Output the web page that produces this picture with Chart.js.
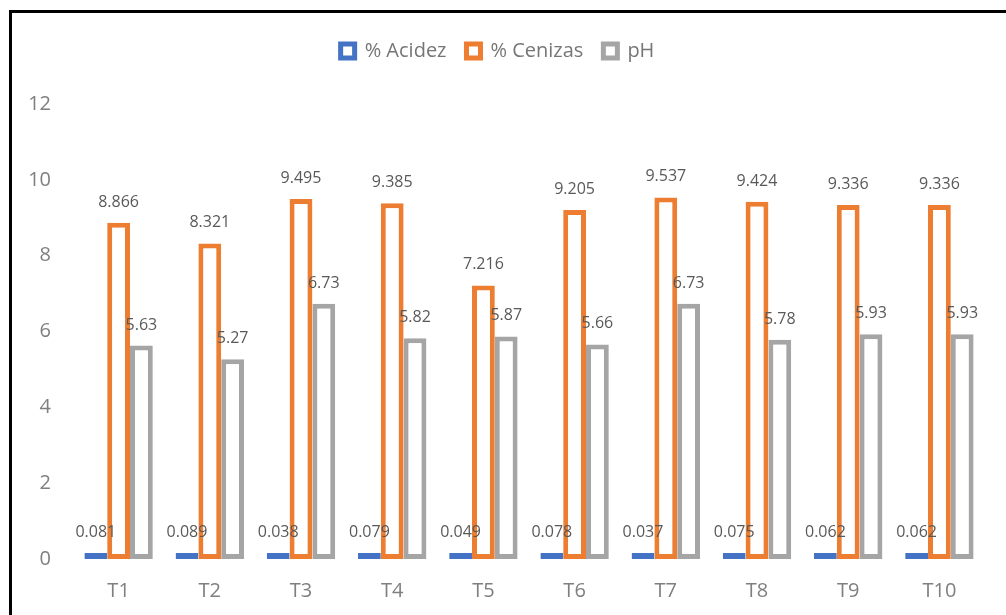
<!DOCTYPE html>
<html>
<head>
<meta charset="utf-8">
<script src="https://cdn.jsdelivr.net/npm/chart.js@4/dist/chart.umd.min.js"></script>
<style>
  html, body { margin: 0; padding: 0; background: #fff; }
  #wrap { width: 1006px; height: 615px; position: relative; }
</style>
</head>
<body>
<div id="wrap"><canvas id="chart"></canvas></div>
<script>
const categories = ["T1", "T2", "T3", "T4", "T5", "T6", "T7", "T8", "T9", "T10"];
const acidez = [0.081, 0.089, 0.038, 0.079, 0.049, 0.078, 0.037, 0.075, 0.062, 0.062];
const cenizas = [8.866, 8.321, 9.495, 9.385, 7.216, 9.205, 9.537, 9.424, 9.336, 9.336];
const ph = [5.63, 5.27, 6.73, 5.82, 5.87, 5.66, 6.73, 5.78, 5.93, 5.93];
const yTicks = [0, 2, 4, 6, 8, 10, 12];

const FONT = "'Open Sans', 'Liberation Sans', sans-serif";

// value labels above each bar
const valueLabels = {
  id: "valueLabels",
  afterDatasetsDraw(chart) {
    const ctx = chart.ctx;
    ctx.save();
    ctx.font = "16px " + FONT;
    ctx.fillStyle = "#595959";
    ctx.textAlign = "center";
    ctx.textBaseline = "alphabetic";
    chart.data.datasets.forEach((ds, i) => {
      chart.getDatasetMeta(i).data.forEach((bar, j) => {
        ctx.fillText(String(ds.data[j]), bar.x, bar.y - 16);
      });
    });
    ctx.restore();
  }
};

// black frame on left and top edges
const frame = {
  id: "frame",
  afterDraw(chart) {
    const ctx = chart.ctx;
    ctx.save();
    ctx.strokeStyle = "#000";
    ctx.lineWidth = 3;
    ctx.beginPath();
    ctx.moveTo(10.5, 615);
    ctx.lineTo(10.5, 11.5);
    ctx.lineTo(1006, 11.5);
    ctx.stroke();
    ctx.restore();
  }
};

// extra space under the legend
const legendGap = {
  id: "legendGap",
  beforeInit(chart) {
    const fit = chart.legend.fit;
    chart.legend.fit = function () {
      fit.bind(chart.legend)();
      this.height += 33;
    };
  }
};

new Chart(document.getElementById("chart"), {
  type: "bar",
  data: {
    labels: categories,
    datasets: [
      { label: "% Acidez", data: acidez, backgroundColor: "#fff", borderColor: "#4472C4", borderWidth: 5, borderSkipped: false, minBarLength: 6 },
      { label: "% Cenizas", data: cenizas, backgroundColor: "#fff", borderColor: "#ED7D31", borderWidth: 5, borderSkipped: false },
      { label: "pH", data: ph, backgroundColor: "#fff", borderColor: "#A5A5A5", borderWidth: 5, borderSkipped: false }
    ]
  },
  options: {
    responsive: true,
    maintainAspectRatio: false,
    animation: false,
    layout: { padding: { left: 10, right: 21, top: 21, bottom: 18 } },
    datasets: { bar: { categoryPercentage: 0.75, barPercentage: 1.0 } },
    plugins: {
      legend: {
        position: "top",
        labels: {
          boxWidth: 14,
          boxHeight: 14,
          padding: 20,
          color: "#767676",
          font: { family: FONT, size: 20 }
        }
      },
      tooltip: { enabled: false }
    },
    scales: {
      x: {
        afterFit(scale) { scale.height = 38; },
        grid: { display: false, drawTicks: false },
        border: { display: false },
        ticks: { color: "#7f7f7f", padding: 20, font: { family: FONT, size: 20 } }
      },
      y: {
        min: 0,
        max: 12,
        afterBuildTicks(scale) { scale.ticks = yTicks.map(v => ({ value: v })); },
        afterFit(scale) { scale.width = 63; },
        grid: { display: false, drawTicks: false },
        border: { display: false },
        ticks: { color: "#7f7f7f", padding: 22, font: { family: FONT, size: 20 } }
      }
    }
  },
  plugins: [valueLabels, frame, legendGap]
});
</script>
</body>
</html>
